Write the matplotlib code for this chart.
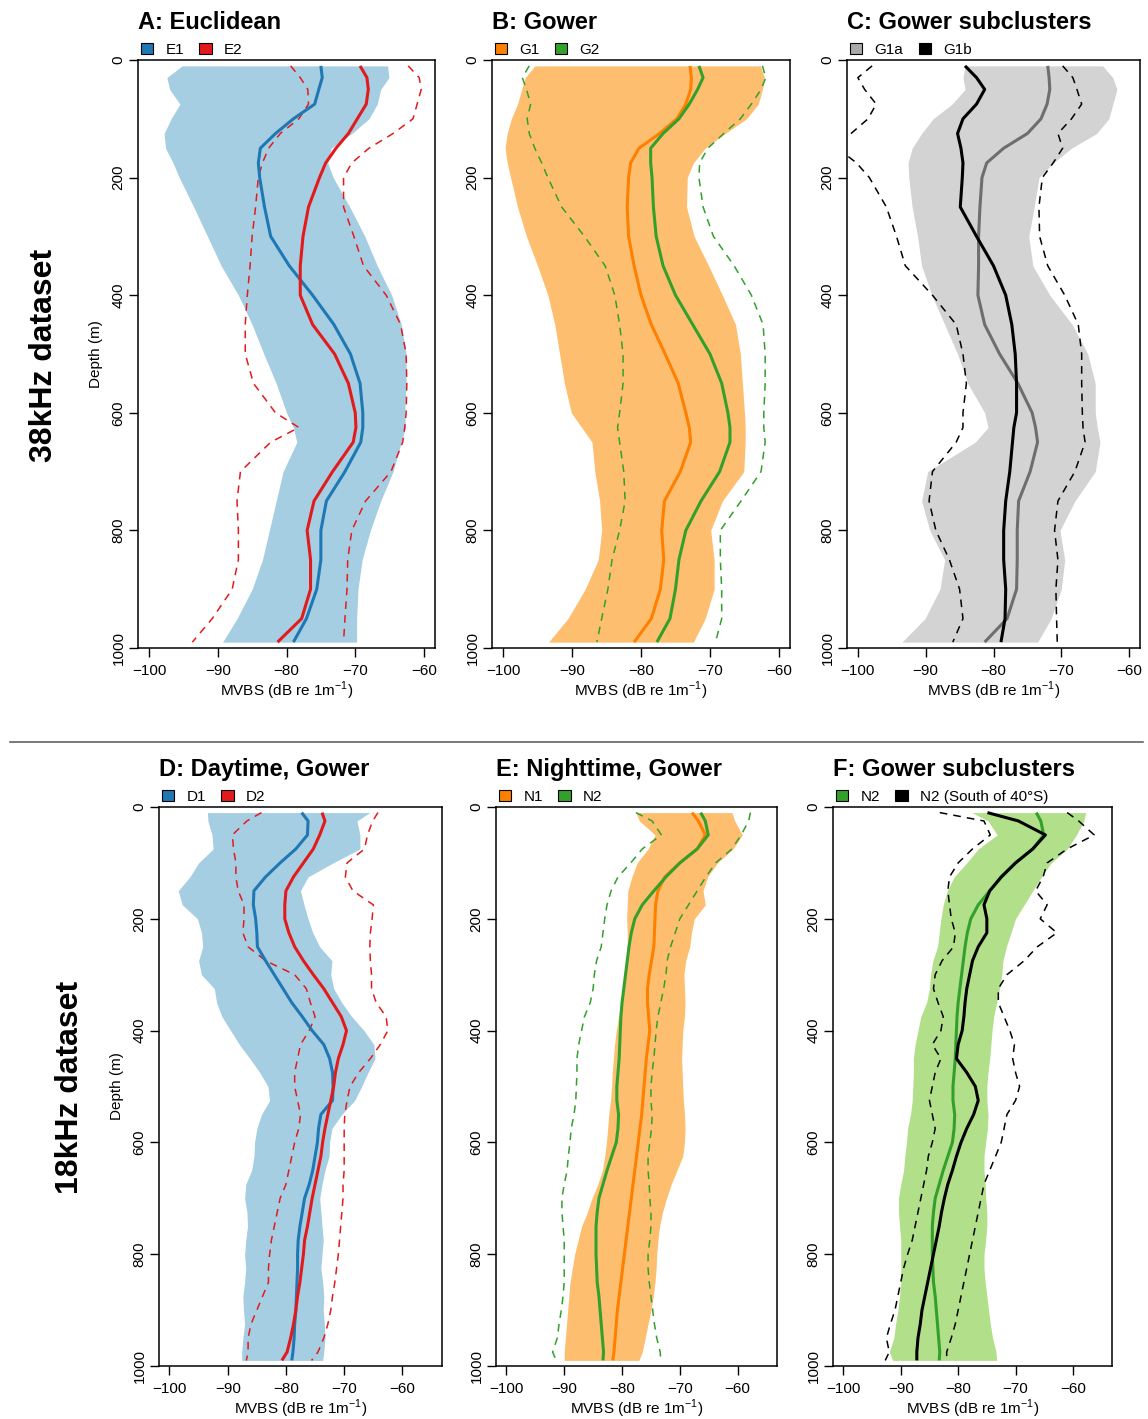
import matplotlib
matplotlib.use("Agg")
import matplotlib.pyplot as plt
from matplotlib.patches import Patch
from matplotlib.lines import Line2D

plt.rcParams['font.family'] = ['Liberation Sans', 'DejaVu Sans']
plt.rcParams['mathtext.fontset'] = 'custom'
plt.rcParams['mathtext.rm'] = 'Liberation Sans'

# ---------------- data: 38 kHz (top row) ----------------
depth_top = [10, 30, 50, 75, 100, 125, 150, 175, 200, 250, 300, 350, 400, 450,
             500, 550, 600, 625, 650, 700, 750, 800, 850, 900, 950, 990]

E1_low = [-95.2, -97.4, -97.0, -95.5, -96.8, -97.8, -97.6, -96.5, -95.6, -93.5, -91.5, -89.5, -87.0,
          -85.0, -83.3, -81.5, -80.0, -79.0, -78.5, -80.5, -81.5, -82.5, -83.5, -85.0, -87.2, -89.3]
E1_high = [-65.3, -65.1, -66.3, -66.8, -68.0, -70.5, -73.5, -74.0, -73.2, -70.8, -68.6, -66.8, -64.7,
           -63.3, -62.6, -62.6, -62.8, -62.7, -63.3, -64.5, -66.3, -67.8, -69.0, -69.6, -69.8, -69.8]
E1_line = [-75.0, -74.8, -75.3, -75.9, -79.0, -81.6, -83.8, -84.1, -83.9, -83.2, -82.3, -79.6, -76.2,
           -73.1, -70.7, -69.3, -68.9, -68.9, -69.2, -71.5, -74.2, -75.0, -75.0, -75.6, -77.1, -79.0]
E2_line = [-69.3, -68.3, -68.1, -68.4, -69.7, -71.0, -72.8, -74.3, -75.2, -76.8, -77.6, -78.0, -78.0,
           -76.2, -73.0, -71.0, -70.0, -69.9, -70.3, -73.3, -76.0, -77.0, -76.5, -76.5, -77.8, -81.3]
E2_low = [-79.4, -78.0, -76.9, -76.8, -78.2, -80.9, -82.6, -83.5, -84.1, -84.5, -85.0, -85.3, -85.7,
          -86.0, -86.0, -84.8, -81.6, -78.2, -82.3, -86.7, -87.2, -87.0, -87.0, -87.9, -90.8, -93.7]
E2_high = [-62.3, -60.7, -60.4, -61.0, -61.6, -64.5, -68.0, -70.5, -71.7, -71.7, -70.2, -68.8, -65.5,
           -63.4, -62.6, -62.5, -62.6, -62.8, -63.1, -64.8, -68.5, -70.5, -71.1, -71.2, -71.5, -71.7]

G1_low = [-95.4, -96.8, -97.3, -97.9, -98.8, -99.4, -99.7, -99.4, -98.9, -97.9, -96.6, -95.0, -93.5,
          -92.5, -91.8, -91.1, -90.1, -88.6, -87.1, -86.7, -86.0, -85.7, -86.2, -88.1, -90.6, -93.4]
G1_high = [-62.7, -62.1, -62.4, -63.0, -64.7, -67.8, -70.7, -72.4, -73.3, -73.4, -72.3, -70.2, -68.2,
           -66.3, -65.6, -65.3, -65.0, -64.9, -64.9, -65.1, -68.2, -69.9, -69.4, -69.4, -70.7, -72.4]
G1_line = [-72.9, -72.7, -72.8, -73.5, -74.8, -77.3, -80.3, -81.5, -81.8, -82.0, -81.8, -81.0, -80.0,
           -78.5, -76.5, -74.6, -73.5, -73.0, -72.8, -74.3, -76.6, -77.0, -76.7, -77.2, -78.5, -81.0]
G2_line = [-71.6, -71.0, -71.8, -73.0, -74.5, -76.8, -78.6, -78.6, -78.4, -78.2, -77.8, -76.8, -75.0,
           -72.5, -70.0, -68.3, -67.4, -67.1, -67.1, -68.6, -71.3, -73.5, -74.5, -75.0, -75.8, -77.7]
G2_low = [-96.2, -97.2, -96.6, -96.0, -96.5, -96.2, -95.4, -94.4, -93.5, -91.5, -88.2, -85.2, -83.8,
          -83.1, -82.6, -82.6, -83.1, -83.4, -83.1, -82.5, -82.3, -83.1, -84.2, -84.8, -85.7, -86.4]
G2_high = [-62.4, -61.9, -62.6, -64.0, -65.6, -68.0, -70.3, -71.5, -71.6, -71.0, -69.5, -66.5, -64.0,
           -62.3, -62.0, -62.0, -62.2, -62.2, -62.0, -62.6, -65.5, -68.5, -68.5, -68.3, -68.3, -69.2]

G1a_low = [-84.2, -84.5, -84.2, -86.1, -88.9, -90.6, -92.0, -92.6, -92.5, -92.0, -91.2, -90.6, -89.1,
           -87.2, -85.3, -83.8, -81.3, -80.8, -82.7, -89.7, -90.6, -89.4, -87.2, -87.9, -90.1, -93.5]
G1a_high = [-63.9, -62.4, -61.8, -62.4, -63.0, -64.8, -68.5, -71.2, -73.3, -74.0, -74.8, -74.2, -71.7,
            -68.4, -66.1, -65.0, -65.0, -64.7, -64.3, -65.0, -68.0, -70.2, -69.5, -70.0, -71.5, -73.5]
G1a_line = [-72.0, -71.8, -71.7, -72.1, -73.0, -75.0, -78.5, -81.0, -81.7, -82.0, -82.2, -82.2, -82.3,
            -81.3, -79.1, -76.4, -74.3, -73.8, -73.5, -74.6, -76.3, -76.5, -76.5, -76.6, -78.0, -81.3]
G1b_line = [-84.2, -82.5, -81.3, -82.5, -84.5, -85.3, -84.8, -84.5, -84.6, -84.9, -82.5, -80.0, -78.2,
            -77.3, -76.8, -76.6, -76.6, -77.0, -77.2, -77.6, -78.2, -78.5, -78.5, -78.2, -78.3, -78.9]
G1b_low = [-97.9, -100.0, -99.0, -97.3, -98.5, -101.0, -103.0, -100.2, -98.3, -95.8, -94.3, -93.0, -89.0,
           -85.5, -84.5, -84.0, -84.5, -84.5, -85.5, -89.0, -89.5, -88.5, -86.5, -85.0, -84.5, -86.0]
G1b_high = [-69.8, -68.3, -67.7, -67.0, -68.5, -70.5, -69.8, -71.2, -72.8, -73.3, -73.2, -72.0, -69.5,
            -67.5, -67.0, -67.0, -66.9, -66.8, -66.5, -68.0, -70.5, -71.0, -70.5, -70.8, -70.7, -70.6]

# ---------------- data: 18 kHz (bottom row) ----------------
depth_bot = [10, 25, 50, 75, 100, 125, 150, 175, 200, 225, 250, 275, 300, 325, 350, 375, 400,
             425, 450, 475, 500, 525, 550, 575, 600, 625, 650, 675, 700, 725, 750, 775, 800,
             825, 850, 875, 900, 925, 950, 975, 990]

D1_low = [-93.5, -93.4, -92.7, -92.5, -95.0, -96.5, -98.5, -97.8, -95.2, -94.5, -94.3, -95.0, -94.5,
          -92.3, -91.9, -91.0, -89.5, -88.0, -86.2, -84.5, -83.1, -82.8, -84.2, -85.0, -85.4, -85.5,
          -85.9, -86.9, -87.1, -86.7, -86.6, -86.9, -87.1, -86.9, -87.1, -87.4, -87.3, -87.1, -87.4,
          -87.6, -87.6]
D1_high = [-65.6, -67.8, -67.3, -67.3, -71.9, -76.2, -77.5, -76.9, -76.2, -75.4, -74.2, -72.1, -72.3,
           -71.8, -70.4, -68.7, -66.6, -64.9, -64.7, -65.9, -67.0, -68.2, -70.4, -72.1, -72.5, -72.6,
           -73.3, -73.8, -74.2, -74.0, -73.8, -73.6, -73.8, -74.0, -73.7, -73.5, -73.6, -73.4, -73.3,
           -73.5, -73.7]
D1_line = [-77.3, -76.2, -76.3, -78.3, -81.0, -83.5, -85.5, -85.6, -85.2, -85.0, -84.9, -83.5, -82.0,
           -80.5, -79.0, -77.2, -75.5, -73.5, -72.5, -72.0, -71.9, -72.0, -74.0, -74.4, -74.6, -75.0,
           -75.4, -76.0, -76.8, -77.2, -77.6, -77.9, -78.0, -78.0, -78.1, -78.2, -78.3, -78.5, -78.6,
           -78.8, -79.0]
D2_line = [-73.8, -73.3, -74.2, -75.3, -77.0, -78.7, -80.0, -80.2, -80.2, -79.5, -78.5, -77.0, -75.3,
           -73.5, -72.0, -70.5, -69.6, -70.2, -71.0, -71.5, -71.8, -72.3, -72.8, -73.3, -73.7, -74.0,
           -74.5, -75.0, -75.5, -75.9, -76.3, -76.8, -77.0, -77.3, -77.6, -78.0, -78.3, -78.7, -79.2,
           -79.8, -80.7]
D2_low = [-84.2, -86.7, -89.2, -89.0, -88.6, -88.6, -88.2, -87.2, -87.2, -87.4, -86.5, -83.5, -78.5,
          -76.5, -75.8, -75.0, -76.0, -77.5, -78.0, -78.5, -78.5, -78.0, -77.5, -77.8, -78.5, -79.0,
          -79.5, -80.0, -81.0, -81.5, -82.0, -82.5, -82.8, -83.0, -83.0, -84.0, -85.0, -86.0, -86.5,
          -86.5, -86.8]
D2_high = [-64.2, -65.1, -66.0, -66.5, -69.5, -69.8, -68.5, -65.0, -65.2, -65.5, -65.6, -65.5, -65.3,
           -65.3, -64.5, -62.8, -62.5, -63.8, -65.5, -67.5, -69.0, -69.5, -69.9, -70.0, -70.0, -70.0,
           -70.0, -70.2, -70.2, -70.4, -70.6, -70.8, -71.0, -71.3, -71.6, -72.0, -72.3, -72.8, -73.5,
           -74.5, -75.6]

N1_low = [-77.6, -77.0, -74.3, -75.5, -77.4, -78.3, -79.0, -79.1, -79.2, -79.1, -79.1, -79.3, -79.4,
          -79.8, -80.2, -80.6, -81.0, -81.3, -81.5, -81.7, -81.8, -82.0, -82.3, -82.5, -82.7, -83.0,
          -83.4, -84.2, -85.2, -86.0, -87.0, -87.6, -88.2, -88.6, -89.0, -89.2, -89.4, -89.6, -89.8,
          -90.0, -90.0]
N1_high = [-61.0, -60.5, -59.2, -60.8, -63.5, -65.2, -66.0, -65.6, -67.5, -68.0, -68.3, -69.0, -69.3,
           -69.2, -69.1, -69.2, -69.5, -69.6, -69.7, -69.6, -69.5, -69.4, -69.2, -69.1, -69.2, -69.5,
           -70.5, -71.5, -72.3, -73.0, -73.5, -73.8, -74.0, -74.1, -74.3, -74.6, -75.0, -75.5, -76.0,
           -76.5, -77.1]
N1_line = [-67.9, -66.8, -65.6, -67.0, -70.0, -72.6, -73.8, -74.2, -74.3, -74.4, -74.5, -74.9, -75.3,
           -75.6, -75.6, -75.4, -75.2, -75.5, -75.8, -76.0, -76.2, -76.4, -76.6, -76.9, -77.2, -77.5,
           -77.8, -78.1, -78.4, -78.7, -79.0, -79.3, -79.6, -79.9, -80.2, -80.5, -80.8, -81.0, -81.2,
           -81.4, -81.6]
N2_line = [-66.4, -65.6, -65.1, -67.0, -70.0, -72.4, -74.5, -76.5, -77.8, -78.4, -78.8, -79.1, -79.4,
           -79.7, -80.0, -80.2, -80.3, -80.4, -80.5, -80.7, -80.9, -80.9, -80.6, -80.7, -81.0, -81.8,
           -82.6, -83.3, -84.0, -84.3, -84.5, -84.5, -84.5, -84.4, -84.3, -84.0, -83.8, -83.6, -83.4,
           -83.2, -83.3]
N2_low = [-77.6, -74.8, -73.2, -76.5, -78.5, -80.7, -81.9, -82.6, -83.0, -83.3, -83.6, -84.4, -84.8,
          -85.0, -85.5, -86.5, -87.0, -87.5, -87.8, -87.8, -87.9, -88.0, -88.3, -88.8, -89.0, -89.3,
          -89.5, -90.0, -90.4, -90.4, -90.2, -90.0, -90.0, -90.0, -90.0, -90.2, -90.5, -90.9, -91.2,
          -92.0, -91.4]
N2_high = [-57.8, -58.1, -59.4, -61.0, -63.8, -65.5, -67.0, -68.5, -70.0, -70.8, -71.6, -72.2, -72.4,
           -72.8, -73.3, -73.8, -74.1, -74.3, -74.5, -74.8, -75.0, -75.0, -74.8, -74.9, -75.2, -75.5,
           -75.5, -75.3, -75.2, -75.0, -75.0, -75.2, -75.5, -75.5, -75.3, -75.0, -74.7, -74.4, -74.0,
           -73.4, -73.3]

NS_line = [-74.9, -69.5, -64.8, -67.0, -70.0, -72.5, -74.5, -75.5, -75.0, -75.0, -76.5, -77.5, -78.0,
           -78.5, -78.8, -79.0, -79.3, -80.0, -80.3, -78.5, -77.0, -76.5, -77.3, -78.5, -79.5, -80.3,
           -81.0, -81.8, -82.4, -82.9, -83.3, -83.8, -84.3, -84.8, -85.3, -85.8, -86.3, -86.6, -87.0,
           -87.2, -87.2]
NS_low = [-83.2, -75.5, -74.4, -77.5, -80.0, -81.5, -81.8, -81.5, -81.2, -80.5, -80.8, -82.8, -84.0,
          -84.3, -83.5, -82.6, -83.0, -84.5, -83.0, -84.0, -84.5, -85.0, -84.5, -84.0, -84.5, -85.2,
          -85.5, -86.0, -86.5, -87.0, -87.5, -88.0, -88.8, -89.5, -90.0, -90.5, -91.0, -91.8, -92.5,
          -92.0, -92.7]
NS_high = [-61.0, -59.0, -56.3, -61.0, -64.5, -65.2, -66.5, -64.5, -65.7, -62.8, -66.2, -68.5, -71.5,
           -73.0, -73.0, -72.0, -71.0, -70.2, -70.5, -70.0, -69.3, -70.0, -71.5, -72.0, -72.5, -73.5,
           -74.5, -75.5, -76.0, -76.5, -77.0, -77.5, -78.0, -78.5, -79.0, -79.5, -80.0, -80.5, -81.2,
           -82.0, -82.0]

xticks = [-100, -90, -80, -70, -60]
yticks = [0, 200, 400, 600, 800, 1000]

# colours
LBLUE, BLUE = '#A6CEE3', '#1F78B4'
RED = '#E31A1C'
LORANGE, ORANGE = '#FDBF6F', '#FF7F00'
LGREEN, GREEN = '#B2DF8A', '#33A02C'
LGRAY, GRAY, MGRAY = '#D3D3D3', '#6E6E6E', '#A9A9A9'

W, H = 1148, 1419
fig = plt.figure(figsize=(W / 100, H / 100), dpi=100)

FS = 11


def make_ax(px_left, px_right, px_top, px_bottom):
    return fig.add_axes([px_left / W, 1 - px_bottom / H, (px_right - px_left) / W,
                         (px_bottom - px_top) / H])


def style(ax, xr, title, ylabel=False, title_pad=22):
    span = xr[1] - xr[0]
    ax.set_xlim(xr[0] - 0.04 * span, xr[1] + 0.04 * span)
    ax.set_ylim(1000, 0)
    ax.set_xticks(xticks)
    ax.set_yticks(yticks)
    ax.tick_params(direction='out', length=6.5, width=1.0, labelsize=FS, pad=5)
    ax.tick_params(axis='y', pad=2.5)
    for lab in ax.get_yticklabels():
        lab.set_rotation(90)
        lab.set_va('center')
        lab.set_ha('right')
    for s in ax.spines.values():
        s.set_linewidth(1.1)
    ax.set_xlabel(r'MVBS (dB re 1m$^{\mathregular{-1}}$)', fontsize=FS, labelpad=1)
    if ylabel:
        ax.set_ylabel('Depth (m)', fontsize=FS, labelpad=6)
    ax.set_title(title, loc='left', fontsize=17, fontweight='bold', pad=title_pad)


def legend(ax, items):
    handles = [Patch(facecolor=c, edgecolor='black', linewidth=0.8) for c, _ in items]
    labels = [l for _, l in items]
    ax.legend(handles, labels, loc='lower left', bbox_to_anchor=(0.0, 1.0), ncol=len(items),
              frameon=False, fontsize=FS, handlelength=0.8, handleheight=0.7,
              handletextpad=0.8, columnspacing=1.0, borderaxespad=0.1, borderpad=0.1)


LW, DLW = 2.2, 1.1
DASH = (0, (5, 4))


def panel(ax, depth, fill_low, fill_high, fill_col, l1, c1, l2, c2, dlow, dhigh):
    ax.fill_betweenx(depth, fill_low, fill_high, color=fill_col, lw=0)
    ax.plot(dlow, depth, color=c2, lw=DLW, linestyle=DASH)
    ax.plot(dhigh, depth, color=c2, lw=DLW, linestyle=DASH)
    ax.plot(l1, depth, color=c1, lw=LW, solid_capstyle='butt')
    ax.plot(l2, depth, color=c2, lw=LW, solid_capstyle='butt')


# ---- top row ----
axA = make_ax(138, 435, 60, 648)
panel(axA, depth_top, E1_low, E1_high, LBLUE, E1_line, BLUE, E2_line, RED, E2_low, E2_high)
style(axA, (-100, -60), 'A: Euclidean', ylabel=True)
legend(axA, [(BLUE, 'E1'), (RED, 'E2')])

axB = make_ax(492, 790, 60, 648)
panel(axB, depth_top, G1_low, G1_high, LORANGE, G1_line, ORANGE, G2_line, GREEN, G2_low, G2_high)
style(axB, (-100, -60), 'B: Gower')
legend(axB, [(ORANGE, 'G1'), (GREEN, 'G2')])

axC = make_ax(847, 1140, 60, 648)
panel(axC, depth_top, G1a_low, G1a_high, LGRAY, G1a_line, GRAY, G1b_line, 'black', G1b_low, G1b_high)
style(axC, (-100, -60), 'C: Gower subclusters')
legend(axC, [(MGRAY, 'G1a'), ('black', 'G1b')])

# ---- bottom row ----
axD = make_ax(159, 442, 807, 1366)
panel(axD, depth_bot, D1_low, D1_high, LBLUE, D1_line, BLUE, D2_line, RED, D2_low, D2_high)
style(axD, (-100, -55), 'D: Daytime, Gower', ylabel=True)
legend(axD, [(BLUE, 'D1'), (RED, 'D2')])

axE = make_ax(496, 777, 807, 1366)
panel(axE, depth_bot, N1_low, N1_high, LORANGE, N1_line, ORANGE, N2_line, GREEN, N2_low, N2_high)
style(axE, (-100, -55), 'E: Nighttime, Gower')
legend(axE, [(ORANGE, 'N1'), (GREEN, 'N2')])

axF = make_ax(833, 1112, 807, 1366)
panel(axF, depth_bot, N2_low, N2_high, LGREEN, N2_line, GREEN, NS_line, 'black', NS_low, NS_high)
style(axF, (-100, -55), 'F: Gower subclusters')
legend(axF, [(GREEN, 'N2'), ('black', 'N2 (South of 40°S)')])

# row labels and separator
fig.text(44 / W, 1 - 355 / H, '38kHz dataset', rotation=90, fontsize=23, fontweight='bold',
         ha='center', va='center')
fig.text(70 / W, 1 - 1087 / H, '18kHz dataset', rotation=90, fontsize=23, fontweight='bold',
         ha='center', va='center')
fig.add_artist(Line2D([10 / W, 1143 / W], [1 - 742 / H, 1 - 742 / H], color='#555555', lw=1.1))

fig.savefig('out.png', dpi=100)
